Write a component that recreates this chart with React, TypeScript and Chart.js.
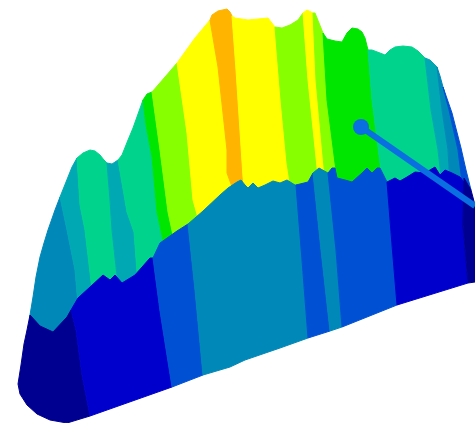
import React, { useEffect, useRef } from "react";
import { Chart, registerables } from "chart.js";

Chart.register(...registerables);

type P = [number, number];

const NAVY = "#000090";
const BLUE = "#0000cc";
const MIDBLUE = "#0050d4";
const TEAL = "#0088b8";
const CYAN = "#00a8b4";
const MINT = "#00d48c";
const GREEN = "#00e600";
const LIME = "#88ff00";
const YELLOW = "#ffff00";
const ORANGE = "#ffb400";
const POINTER = "#0a6fe0";

// upper bands, left to right
const upTeal1: P[] = [[30,320],[30,315],[33,297],[36,277],[40,257],[44,243],[48,230],[55,210],[60,197],[63,211],[67,230],[75,270],[78,305],[65,325],[53,338],[40,330]];
const upCyan1: P[] = [[60,197],[64,187],[68,177],[72,167],[77,158],[80,205],[85,230],[92,290],[78,305],[75,270],[67,230],[63,211]];
const upMint1: P[] = [[77,158],[83,153],[90,150],[95,151],[100,155],[104,160],[107,163],[110,200],[112,230],[118,285],[92,290],[85,230],[80,205]];
const upCyan2: P[] = [[107,163],[112,164],[118,160],[127,212],[134,232],[138,285],[118,285],[112,230],[110,200]];
const upMint2: P[] = [[118,160],[122,155],[128,140],[133,128],[138,114],[143,100],[146,125],[152,157],[157,212],[165,250],[140,285],[138,285],[134,232],[127,212]];
const upGreen: P[] = [[143,100],[147,94],[152,92],[160,150],[168,212],[174,240],[165,250],[157,212],[152,157],[146,125]];
const upLime1: P[] = [[152,92],[165,77],[177,63],[187,133],[193,200],[200,225],[174,240],[168,212],[160,150]];
const upYellow1: P[] = [[177,63],[195,38],[210,20],[218,67],[227,150],[227,173],[235,195],[200,225],[193,200],[187,133]];
const upOrange: P[] = [[210,20],[212,15],[218,11],[227,9],[230,12],[232,16],[236,70],[243,177],[245,195],[235,195],[227,173],[227,150],[218,67]];
const upYellow2: P[] = [[232,16],[235,18],[248,20],[258,19],[268,18],[275,27],[281,100],[287,163],[292,195],[245,195],[243,177],[236,70]];
const upLime2: P[] = [[275,27],[282,28],[290,25],[298,20],[303,13],[308,80],[317,167],[319,190],[292,195],[287,163],[281,100]];
const upYellow3: P[] = [[303,13],[307,10],[313,13],[316,80],[324,167],[325,185],[319,190],[317,167],[308,80]];
const upLime3: P[] = [[313,13],[315,13],[319,23],[323,33],[327,100],[335,163],[338,185],[325,185],[324,167],[316,80]];
const upGreen2: P[] = [[323,33],[327,39],[335,41],[342,42],[347,33],[352,28],[358,29],[362,32],[365,38],[368,50],[372,100],[380,163],[384,190],[338,185],[335,163],[327,100]];
const upMint3: P[] = [[368,50],[372,50],[380,53],[385,55],[390,50],[395,47],[403,46],[412,47],[418,51],[425,58],[431,110],[438,150],[442,185],[384,190],[380,163],[372,100]];
const upCyan3: P[] = [[425,58],[430,60],[435,65],[437,67],[442,110],[448,150],[450,185],[442,185],[438,150],[431,110]];
const upTeal2: P[] = [[437,67],[440,76],[443,87],[449,110],[458,150],[463,185],[450,185],[448,150],[442,110]];
const upMid: P[] = [[443,87],[452,113],[461,148],[466,170],[471,190],[463,190],[458,150],[449,110]];

// lower bands, left to right
const lowNavy1: P[] = [[30,315],[40,326],[53,332],[67,317],[71,310],[76,330],[82,375],[90,416],[67,423],[50,420],[37,414],[27,405],[20,394],[18,384],[21,365],[24,344],[27,330]];
const lowBlue1: P[] = [[71,310],[78,298],[90,287],[103,275],[110,280],[115,275],[122,283],[135,275],[150,258],[153,258],[160,311],[172,387],[90,416],[82,375],[76,330]];
const lowMid1: P[] = [[153,258],[160,243],[177,231],[188,224],[195,290],[203,375],[172,387],[160,311]];
const lowTeal1: P[] = [[188,224],[203,211],[220,195],[228,188],[237,182],[241,180],[245,185],[248,188],[253,183],[258,188],[265,185],[273,181],[280,183],[287,180],[295,185],[297,185],[302,260],[308,338],[280,348],[245,360],[230,367],[203,375],[195,290]];
const lowMid2: P[] = [[296,185],[308,182],[313,173],[321,250],[330,331],[308,338],[302,260]];
const lowTeal2: P[] = [[313,173],[319,168],[328,173],[330,172],[336,250],[342,327],[330,331],[321,250]];
const lowMid3: P[] = [[328,173],[332,168],[335,168],[337,178],[345,180],[352,182],[362,173],[367,168],[372,173],[377,168],[380,168],[387,182],[392,245],[397,305],[342,327],[336,250]];
const lowBlue2: P[] = [[387,182],[395,178],[400,181],[407,177],[415,172],[425,173],[435,167],[440,175],[445,170],[452,173],[460,177],[466,185],[463,225],[468,283],[397,305],[392,245]];
const lowNavy2: P[] = [[464,178],[471,190],[475,205],[475,282],[468,283],[463,225]];

const pointerLine: P[] = [[361,127],[475,206]];

const bands: [P[], string][] = [
  [upTeal1, TEAL], [upCyan1, CYAN], [upMint1, MINT], [upCyan2, CYAN], [upMint2, MINT],
  [upGreen, GREEN], [upLime1, LIME], [upYellow1, YELLOW], [upOrange, ORANGE], [upYellow2, YELLOW],
  [upLime2, LIME], [upYellow3, YELLOW], [upLime3, LIME], [upGreen2, GREEN], [upMint3, MINT],
  [upCyan3, CYAN], [upTeal2, TEAL], [upMid, MIDBLUE],
  [lowNavy1, NAVY], [lowBlue1, BLUE], [lowMid1, MIDBLUE], [lowTeal1, TEAL], [lowMid2, MIDBLUE],
  [lowTeal2, TEAL], [lowMid3, MIDBLUE], [lowBlue2, BLUE], [lowNavy2, NAVY],
];

export default function App() {
  const ref = useRef<HTMLCanvasElement>(null);
  useEffect(() => {
    document.body.style.margin = "0";
    const datasets: any[] = bands.map(([pts, color], i) => ({
      data: [...pts, pts[0]].map(([x, y]) => ({ x, y })),
      showLine: true,
      fill: "shape",
      backgroundColor: color,
      borderColor: color,
      borderWidth: 1,
      pointRadius: 0,
      tension: 0,
      clip: false,
      order: 100 - i,
    }));
    datasets.push({
      data: pointerLine.map(([x, y]) => ({ x, y })),
      showLine: true,
      fill: false,
      borderColor: POINTER,
      backgroundColor: POINTER,
      borderWidth: 6,
      pointRadius: [8, 0],
      pointBackgroundColor: POINTER,
      pointBorderWidth: 0,
      tension: 0,
      order: 0,
    });
    const chart = new Chart(ref.current!, {
      type: "scatter",
      data: { datasets },
      options: {
        animation: false,
        responsive: false,
        layout: { padding: 0, autoPadding: false },
        plugins: { legend: { display: false }, tooltip: { enabled: false } },
        scales: {
          x: { type: "linear", display: false, min: 0, max: 475 },
          y: { type: "linear", display: false, min: 0, max: 423, reverse: true },
        },
      },
    });
    return () => chart.destroy();
  }, []);
  return <canvas ref={ref} width={475} height={423} style={{ display: "block" }} />;
}
